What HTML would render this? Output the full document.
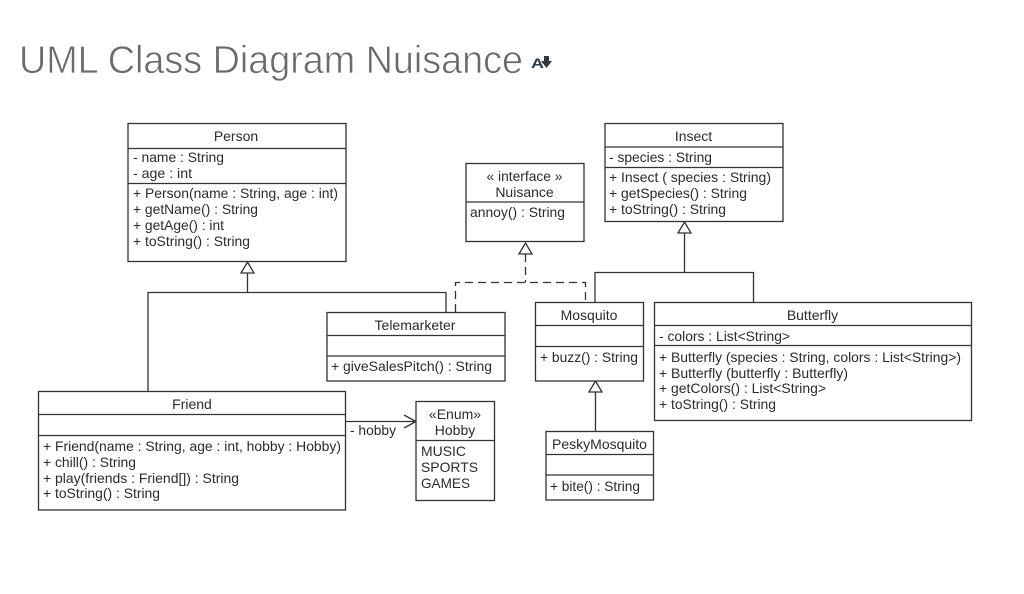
<!DOCTYPE html>
<html>
<head>
<meta charset="utf-8">
<style>
html,body{margin:0;padding:0;background:#fff;width:1024px;height:594px;overflow:hidden}
svg{display:block}
text{font-family:"Liberation Sans",Arial,sans-serif;font-size:13.6px;fill:#2b2b2b}
.c{text-anchor:middle;font-size:14px}
.b{fill:#fff;stroke:#333;stroke-width:1.3}
.l{fill:none;stroke:#333;stroke-width:1.3}
.d{stroke-dasharray:8 5}
.t{fill:#fff;stroke:#333;stroke-width:1.3}
.soft{filter:blur(0.3px)}
</style>
</head>
<body>
<svg width="1024" height="594" viewBox="0 0 1024 594" xmlns="http://www.w3.org/2000/svg">
<text x="19" y="73" textLength="504" lengthAdjust="spacingAndGlyphs" style="font-size:39px;fill:#6a6a6a;stroke:#fff;stroke-width:0.7px">UML Class Diagram Nuisance</text>
<text x="531" y="68" textLength="13" lengthAdjust="spacingAndGlyphs" style="font-size:14px;font-weight:700;fill:#2d3b45">A</text>
<path d="M544 56h5v5h3l-5.500 7-5.500-7h3z" fill="#2d3b45"/>

<g class="soft">
<!-- connectors -->
<path class="l" d="M247.500 273V292.500M148 391.500V292.500H446V312.500"/>
<path class="t" d="M247.500 262L241 273H254Z"/>
<path class="l d" d="M525.500 254V282.500M455.500 312V282.500H585.500V302"/>
<path class="t" d="M525.500 243L519 254H532Z"/>
<path class="l" d="M684.500 233V272.500M595 302V272.500H753.500V302"/>
<path class="t" d="M684.500 222L678 233H691Z"/>
<path class="l" d="M595.500 392V431"/>
<path class="t" d="M595.500 381L589 392H602Z"/>
<path class="l" d="M345 421.500H416M404 415L416 421.500L404 428"/>
<text x="350" y="435" textLength="46" lengthAdjust="spacingAndGlyphs">- hobby</text>

<!-- Person -->
<rect class="b" x="128" y="123.500" width="218" height="138"/>
<path class="l" d="M128 148.500H346M128 183.500H346"/>
<text class="c" x="236" y="141">Person</text>
<text x="133" y="162" textLength="91" lengthAdjust="spacingAndGlyphs">- name : String</text>
<text x="133" y="178" textLength="59" lengthAdjust="spacingAndGlyphs">- age : int</text>
<text x="133" y="198" textLength="205" lengthAdjust="spacingAndGlyphs">+ Person(name : String, age : int)</text>
<text x="133" y="214" textLength="125" lengthAdjust="spacingAndGlyphs">+ getName() : String</text>
<text x="133" y="230" textLength="91" lengthAdjust="spacingAndGlyphs">+ getAge() : int</text>
<text x="133" y="246" textLength="117" lengthAdjust="spacingAndGlyphs">+ toString() : String</text>

<!-- Nuisance -->
<rect class="b" x="466" y="163.500" width="118" height="78"/>
<path class="l" d="M466 202H584"/>
<text class="c" x="524.500" y="181" textLength="76" lengthAdjust="spacingAndGlyphs">« interface »</text>
<text class="c" x="524.500" y="197">Nuisance</text>
<text x="470" y="217" textLength="95" lengthAdjust="spacingAndGlyphs">annoy() : String</text>

<!-- Telemarketer -->
<rect class="b" x="327" y="312.500" width="178" height="68.500"/>
<path class="l" d="M327 335.500H505M327 356H505"/>
<text class="c" x="415" y="330">Telemarketer</text>
<text x="331" y="371" textLength="161" lengthAdjust="spacingAndGlyphs">+ giveSalesPitch() : String</text>

<!-- Mosquito -->
<rect class="b" x="535.500" y="302.500" width="108" height="78.500"/>
<path class="l" d="M535.500 325.500H643.500M535.500 346.500H643.500"/>
<text class="c" x="589" y="320">Mosquito</text>
<text x="540" y="362" textLength="98" lengthAdjust="spacingAndGlyphs">+ buzz() : String</text>

<!-- Insect -->
<rect class="b" x="605" y="123.500" width="178" height="98"/>
<path class="l" d="M605 147H783M605 167.500H783"/>
<text class="c" x="693.500" y="141">Insect</text>
<text x="609" y="162" textLength="103" lengthAdjust="spacingAndGlyphs">- species : String</text>
<text x="609" y="182" textLength="162" lengthAdjust="spacingAndGlyphs">+ Insect ( species : String)</text>
<text x="609" y="198" textLength="138" lengthAdjust="spacingAndGlyphs">+ getSpecies() : String</text>
<text x="609" y="214" textLength="117" lengthAdjust="spacingAndGlyphs">+ toString() : String</text>

<!-- Butterfly -->
<rect class="b" x="654.500" y="302.500" width="317" height="118"/>
<path class="l" d="M654.500 325.500H971.500M654.500 345.500H971.500"/>
<text class="c" x="812.500" y="320">Butterfly</text>
<text x="659" y="341" textLength="131" lengthAdjust="spacingAndGlyphs">- colors : List&lt;String&gt;</text>
<text x="659" y="362" textLength="302" lengthAdjust="spacingAndGlyphs">+ Butterfly (species : String, colors : List&lt;String&gt;)</text>
<text x="659" y="378" textLength="189" lengthAdjust="spacingAndGlyphs">+ Butterfly (butterfly : Butterfly)</text>
<text x="659" y="393" textLength="167" lengthAdjust="spacingAndGlyphs">+ getColors() : List&lt;String&gt;</text>
<text x="659" y="409" textLength="117" lengthAdjust="spacingAndGlyphs">+ toString() : String</text>

<!-- Friend -->
<rect class="b" x="38.500" y="391.500" width="307" height="118.500"/>
<path class="l" d="M38.500 414.500H345.500M38.500 435.500H345.500"/>
<text class="c" x="192" y="409">Friend</text>
<text x="43" y="451" textLength="298" lengthAdjust="spacingAndGlyphs">+ Friend(name : String, age : int, hobby : Hobby)</text>
<text x="43" y="467" textLength="93" lengthAdjust="spacingAndGlyphs">+ chill() : String</text>
<text x="43" y="483" textLength="196" lengthAdjust="spacingAndGlyphs">+ play(friends : Friend[]) : String</text>
<text x="43" y="498" textLength="117" lengthAdjust="spacingAndGlyphs">+ toString() : String</text>

<!-- Hobby -->
<rect class="b" x="416" y="401.500" width="78.500" height="99"/>
<path class="l" d="M416 440.500H494.500"/>
<text class="c" x="455" y="419">«Enum»</text>
<text class="c" x="455" y="435">Hobby</text>
<text x="421" y="456" textLength="45" lengthAdjust="spacingAndGlyphs">MUSIC</text>
<text x="421" y="472" textLength="57" lengthAdjust="spacingAndGlyphs">SPORTS</text>
<text x="421" y="488" textLength="49" lengthAdjust="spacingAndGlyphs">GAMES</text>

<!-- PeskyMosquito -->
<rect class="b" x="546" y="431.500" width="107.500" height="68.500"/>
<path class="l" d="M546 454.500H653.500M546 475H653.500"/>
<text class="c" x="599.500" y="449">PeskyMosquito</text>
<text x="550" y="491" textLength="90" lengthAdjust="spacingAndGlyphs">+ bite() : String</text>
</g>
</svg>
</body>
</html>
